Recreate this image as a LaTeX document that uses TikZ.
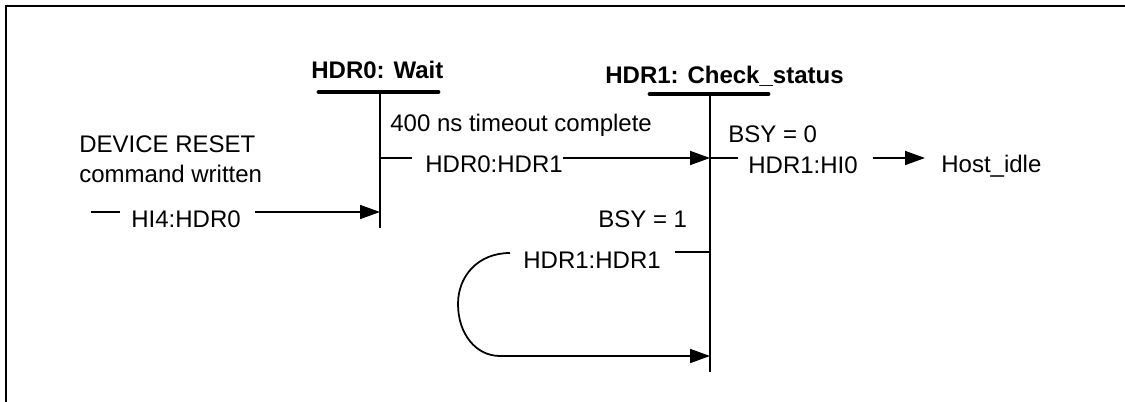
\documentclass[tikz,border=0pt]{standalone}
\usepackage{fontspec}
\setmainfont{Liberation Sans}
\usetikzlibrary{arrows.meta}
\begin{document}
\begin{tikzpicture}[x=0.02cm,y=-0.02cm,
  lbl/.style={inner sep=0pt, anchor=base west, font=\fontsize{13.66}{16}\selectfont},
  ttl/.style={inner sep=0pt, anchor=base west, font=\fontsize{13.66}{16}\selectfont\bfseries},
  ln/.style={line width=1pt},
  frame/.style={line width=1.2pt},
  bar/.style={line width=2.8pt, line cap=round},
  arr/.style={ln, -{Triangle[length=0.4cm,width=0.28cm]}},
]
\useasboundingbox (0,0) rectangle (1125,402);
% frame (top and left edges)
\coordinate (fTL) at (6,6);
\coordinate (fTR) at (1125,6);
\coordinate (fBL) at (6,402);
\draw[frame] (fTR) -- (fTL) -- (fBL);

% state HDR0
\node[ttl] (t0) at (311,79) {HDR0: Wait};
\coordinate (b0l) at (319,92);
\coordinate (b0r) at (438,92);
\draw[bar] (b0l) -- (b0r);
\coordinate (v0t) at (380,93);
\coordinate (v0b) at (380,228);
\draw[ln] (v0t) -- (v0b);

% state HDR1
\node[ttl] (t1) at (605,84) {HDR1: Check\_status};
\coordinate (b1l) at (650,94);
\coordinate (b1r) at (768,94);
\draw[bar] (b1l) -- (b1r);
\coordinate (v1t) at (710,95);
\coordinate (v1b) at (710,372);
\draw[ln] (v1t) -- (v1b);

% HI4:HDR0
\node[lbl] (dr) at (79,153) {DEVICE RESET};
\node[lbl] (cw) at (79,182) {command written};
\coordinate (a1s) at (91,212);
\coordinate (a1e) at (120,212);
\draw[ln] (a1s) -- (a1e);
\node[lbl] (hi4) at (131,227) {HI4:HDR0};
\coordinate (a1m) at (255,212);
\coordinate (a1t) at (380,212);
\draw[arr] (a1m) -- (a1t);

% HDR0:HDR1
\node[lbl] (tmo) at (390,132) {400 ns timeout complete};
\coordinate (a2s) at (380,158);
\coordinate (a2e) at (412,158);
\draw[ln] (a2s) -- (a2e);
\node[lbl] (h01) at (425,172) {HDR0:HDR1};
\coordinate (a2m) at (563,158);
\coordinate (a2t) at (710,158);
\draw[arr] (a2m) -- (a2t);

% HDR1:HI0
\node[lbl] (bsy0) at (728,142) {BSY = 0};
\coordinate (a3s) at (710,158);
\coordinate (a3e) at (738,158);
\draw[ln] (a3s) -- (a3e);
\node[lbl] (h1i) at (748,173) {HDR1:HI0};
\coordinate (a3m) at (873,158);
\coordinate (a3t) at (925,158);
\draw[arr] (a3m) -- (a3t);
\node[lbl] (idle) at (941,172) {Host\_idle};

% HDR1:HDR1
\node[lbl] (bsy1) at (598,227) {BSY = 1};
\coordinate (a4s) at (710,252);
\coordinate (a4e) at (675,252);
\draw[ln] (a4s) -- (a4e);
\node[lbl] (h11) at (523,268) {HDR1:HDR1};
\coordinate (l1) at (510,253);
\coordinate (l2) at (458,304);
\coordinate (l3) at (500,356);
\coordinate (l4) at (710,356);
\draw[arr] (l1) .. controls (478,253) and (458,276) .. (l2)
  .. controls (458,334) and (476,356) .. (l3) -- (l4);
\end{tikzpicture}
\end{document}
